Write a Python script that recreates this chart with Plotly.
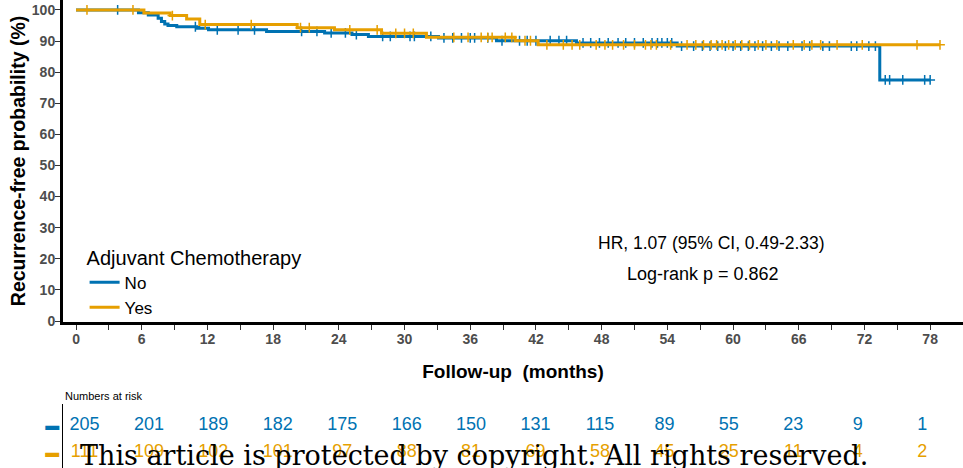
import plotly.graph_objects as go

# ---- Kaplan-Meier estimates (recurrence-free probability, %) ----
no_times = [0, 5.7, 6.6, 7.5, 7.8, 8.1, 8.4, 9.2, 11.0, 12.1, 17.4, 22.7, 25.2,
            26.7, 33.1, 38.4, 45.7, 54.9, 73.4, 78.0]
no_surv = [100, 99.1, 98.4, 97.3, 96.3, 95.5, 95.0, 94.6, 94.1, 93.6, 93.1, 92.6,
           92.1, 91.5, 91.0, 90.1, 89.4, 88.4, 77.5, 77.5]
no_censor = [3.8, 10.9, 12.9, 14.8, 16.3, 20.6, 22.0, 23.3, 24.6, 25.6, 28.0, 28.7,
             30.5, 30.9, 32.4, 33.6, 34.4, 35.2, 36.0, 36.4, 37.6, 38.9, 40.5, 41.2,
             42.0, 43.3, 44.1, 44.8, 46.3, 47.0, 47.8, 48.6, 49.5, 50.2, 51.0, 51.8,
             52.6, 53.1, 53.5, 54.0, 54.4, 55.3, 56.4, 57.2, 57.9, 58.6, 59.3, 60.0,
             60.7, 61.4, 62.0, 62.7, 63.5, 64.2, 65.0, 66.3, 67.0, 68.2, 68.8, 70.8,
             71.3, 72.4, 73.0, 73.9, 74.3, 75.5, 77.5, 78.0]

yes_times = [0, 6.2, 8.6, 10.1, 11.3, 20.2, 23.6, 27.9, 32.0, 40.1, 42.2, 78.9]
yes_surv = [100, 99.0, 98.2, 97.1, 95.3, 94.3, 93.6, 92.5, 91.2, 90.1, 88.8, 88.8]
yes_censor = [1.0, 5.2, 8.8, 11.8, 16.0, 20.5, 21.3, 25.0, 27.5, 29.2, 30.0, 30.8,
              34.5, 35.8, 37.0, 37.6, 38.0, 39.2, 39.8, 41.0, 41.5, 43.0, 44.5, 45.3,
              46.0, 47.5, 48.3, 49.0, 50.0, 51.0, 52.0, 52.5, 53.0, 54.3, 55.8, 56.6,
              57.3, 58.0, 58.5, 59.0, 59.6, 60.2, 60.8, 61.5, 62.3, 63.0, 64.0, 65.5,
              66.5, 67.2, 68.0, 69.5, 71.8, 76.8, 78.9]

# ---- Numbers at risk ----
risk_times = [0, 6, 12, 18, 24, 30, 36, 42, 48, 54, 60, 66, 72, 78]
risk_no = [205, 201, 189, 182, 175, 166, 150, 131, 115, 89, 55, 23, 9, 1]
risk_yes = [111, 109, 102, 101, 97, 88, 81, 69, 58, 45, 25, 11, 4, 2]

group_names = ["No", "Yes"]
colors = ["#0072B2", "#E69F00"]

x_ticks = list(range(0, 79, 3))
x_ticktext = [str(v) if v % 6 == 0 else "" for v in x_ticks]
y_ticks = list(range(0, 101, 10))


def surv_at(times, surv, t):
    s = surv[0]
    for ti, si in zip(times, surv):
        if ti <= t:
            s = si
    return s


fig = go.Figure()

groups = [(no_times, no_surv, no_censor), (yes_times, yes_surv, yes_censor)]
for (times, surv, cens), name, col in zip(groups, group_names, colors):
    fig.add_trace(go.Scatter(
        x=times, y=surv, mode="lines", line=dict(color=col, width=3, shape="hv"),
        name=name, showlegend=True, xaxis="x", yaxis="y", legendgroup=name))
    fig.add_trace(go.Scatter(
        x=cens, y=[surv_at(times, surv, t) for t in cens], mode="markers",
        marker=dict(symbol="cross-thin", size=7, line=dict(color=col, width=1.5)),
        showlegend=False, xaxis="x", yaxis="y", legendgroup=name))

# risk table rows
for row, (vals, col) in enumerate(zip([risk_no, risk_yes], colors)):
    fig.add_trace(go.Scatter(
        x=risk_times, y=[1 - row] * len(risk_times), mode="text",
        text=[str(v) for v in vals],
        textfont=dict(family="Liberation Sans, Arial", size=18, color=col),
        showlegend=False, xaxis="x2", yaxis="y2", hoverinfo="skip"))

tick_font = dict(family="Liberation Sans, Arial", size=14, color="#4D4D4D",
                 weight="bold")

fig.update_layout(
    width=963, height=468,
    margin=dict(l=63, r=0, t=0, b=0),
    paper_bgcolor="white", plot_bgcolor="white",
    font=dict(family="Liberation Sans, Arial", color="black"),
    xaxis=dict(domain=[0, 1], range=[-1.19, 81.0], anchor="y",
               tickmode="array", tickvals=x_ticks, ticktext=x_ticktext,
               ticks="outside", ticklen=5, tickwidth=1, tickcolor="#333333",
               tickfont=tick_font, ticklabelstandoff=-3,
               showline=True, linewidth=3, linecolor="black",
               showgrid=False, zeroline=False,
               title=dict(text="<b>Follow-up\u00a0\u00a0(months)</b>",
                          font=dict(size=19, color="black"), standoff=19),
               automargin=False),
    yaxis=dict(domain=[1 - 322 / 468, 1], range=[-0.32, 103.2], anchor="x",
               tickmode="array", tickvals=y_ticks,
               ticks="outside", ticklen=5, tickwidth=1, tickcolor="#333333",
               tickfont=tick_font, ticklabelstandoff=-3,
               showline=True, linewidth=3, linecolor="black",
               showgrid=False, zeroline=False,
               title=dict(text="<b>Recurrence-free probability (%)</b>",
                          font=dict(size=19.5, color="black"), standoff=2),
               automargin=False),
    xaxis2=dict(domain=[0, 1], range=[-2.0, 81.8], anchor="y2", visible=False),
    yaxis2=dict(domain=[0, 64 / 468], range=[-0.59, 1.78], anchor="x2",
                showline=True, linewidth=1, linecolor="black", showgrid=False,
                zeroline=False, ticks="", tickmode="array", tickvals=[1, 0],
                ticktext=[f"<span style='color:{c}'>\u25ac</span>" for c in colors],
                tickfont=dict(size=14), automargin=False),
    legend=dict(x=0.024, y=0.49, xanchor="left", yanchor="top",
                bgcolor="rgba(0,0,0,0)", itemwidth=30,
                font=dict(size=17, color="black"),
                title=dict(text="Adjuvant Chemotherapy", font=dict(size=20)),
                tracegroupgap=0),
    annotations=[
        dict(text="HR, 1.07 (95% CI, 0.49-2.33)", xref="paper", yref="paper",
             x=(711 - 63) / 900, y=1 - 243 / 468, xanchor="center",
             yanchor="middle", showarrow=False,
             font=dict(size=17.5, color="black")),
        dict(text="Log-rank p = 0.862", xref="paper", yref="paper",
             x=(703 - 63) / 900, y=1 - 274 / 468, xanchor="center",
             yanchor="middle", showarrow=False,
             font=dict(size=18, color="black")),
        dict(text="Numbers at risk", xref="paper", yref="paper",
             x=0, y=1 - 396 / 468, xanchor="left", yanchor="middle",
             showarrow=False, font=dict(size=11, color="black")),
        dict(text="This article is protected by copyright. All rights reserved.",
             xref="paper", yref="paper", x=(474 - 63) / 900, y=-0.011,
             xanchor="center", yanchor="bottom", showarrow=False,
             font=dict(family="DejaVu Serif, serif", size=27, color="black")),
    ],
)

fig.write_html("out.html")
